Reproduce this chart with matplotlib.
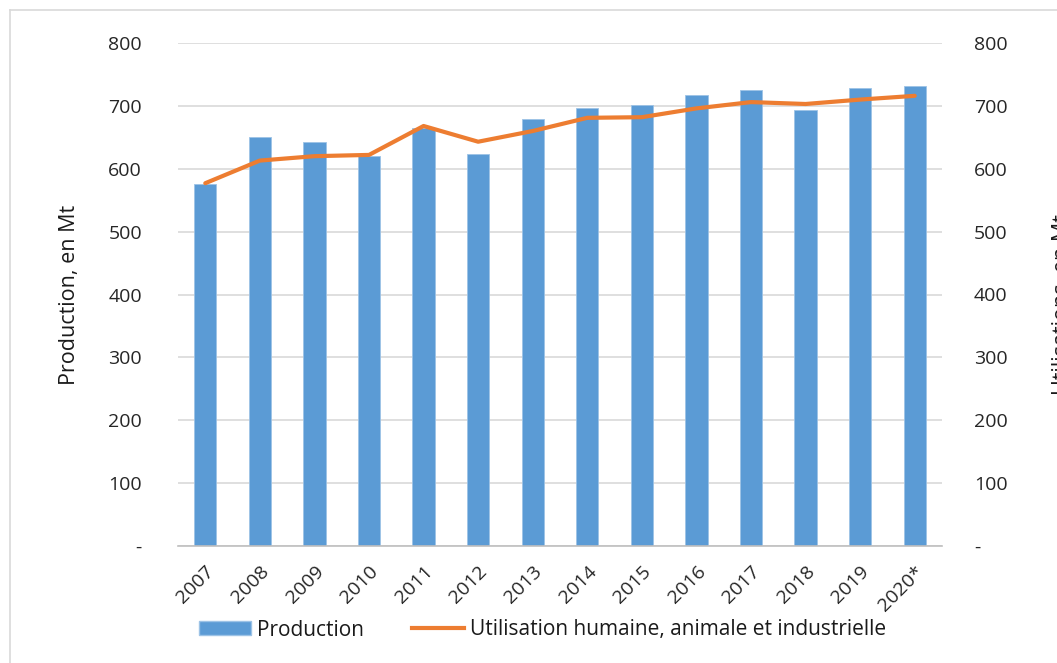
import matplotlib
matplotlib.use("Agg")
import matplotlib.pyplot as plt
from matplotlib.lines import Line2D
from matplotlib.patches import Patch

plt.rcParams['font.family'] = ['Open Sans', 'DejaVu Sans']

years = ["2007", "2008", "2009", "2010", "2011", "2012", "2013",
         "2014", "2015", "2016", "2017", "2018", "2019", "2020*"]
production = [575, 651, 643, 620, 665, 624, 679, 697, 702, 718, 726, 694, 728, 731]
utilisation = [577, 613, 620, 622, 668, 643, 660, 681, 682, 696, 706, 703, 710, 716]
y_ticks = [0, 100, 200, 300, 400, 500, 600, 700, 800]
y_tick_labels = ["-", "100", "200", "300", "400", "500", "600", "700", "800"]

blue = "#5B9BD5"
orange = "#ED7D31"

fig = plt.figure(figsize=(10.57, 6.63), dpi=100)
ax = fig.add_axes([178 / 1057, 1 - 546 / 663, 764 / 1057, 503 / 663])
x = list(range(len(years)))

ax.bar(x, production, width=0.41, color=blue, edgecolor="#9DC3E6", linewidth=0.6, zorder=2)

ax.set_xlim(-0.5, len(years) - 0.5)
ax.set_ylim(0, 800)
ax.set_yticks(y_ticks)
ax.set_yticklabels(y_tick_labels)
ax.grid(axis="y", color="#D9D9D9", linewidth=1.2, zorder=0)
for side in ["top", "left", "right"]:
    ax.spines[side].set_visible(False)
ax.spines["bottom"].set_color("#BFBFBF")
ax.spines["bottom"].set_linewidth(1.2)
ax.tick_params(axis="y", length=0, pad=26, labelsize=14, labelcolor="#262626")
ax.tick_params(axis="x", length=0, pad=12, labelsize=14, labelcolor="#262626")
ax.set_xticks(x)
ax.set_xticklabels(years, rotation=45, ha="right", rotation_mode="anchor")

ax2 = ax.twinx()
ax2.plot(x, utilisation, color=orange, linewidth=3, solid_capstyle="round", zorder=3)
ax2.set_ylim(0, 800)
ax2.set_yticks(y_ticks)
ax2.set_yticklabels(y_tick_labels)
for side in ax2.spines:
    ax2.spines[side].set_visible(False)
ax2.tick_params(axis="y", length=0, pad=23, labelsize=14, labelcolor="#262626")
for lab in ax2.get_yticklabels():
    lab.set_horizontalalignment("left")

fig.text(69 / 1057, 1 - 295 / 663, "Production, en Mt", rotation=90,
         ha="center", va="center", fontsize=15.5, color="#1a1a1a")
fig.text(1052 / 1057, 1 - 305 / 663, "Utilisations, en Mt", rotation=90,
         ha="left", va="center", fontsize=15.5, color="#1a1a1a")

handles = [Patch(facecolor=blue, edgecolor="#9DC3E6"),
           Line2D([0], [0], color=orange, linewidth=3)]
fig.legend(handles, ["Production", "Utilisation humaine, animale et industrielle"],
           loc="center left", bbox_to_anchor=(180 / 1057, 1 - 630 / 663),
           ncol=2, frameon=False, fontsize=15, handlelength=2.5, handleheight=0.65,
           handletextpad=0.3, columnspacing=2.3, labelcolor="#1a1a1a")

# thin frame around the chart area
fig.add_artist(Line2D([10 / 1057, 10 / 1057], [0, 1 - 10 / 663],
                      transform=fig.transFigure, color="#D9D9D9", linewidth=1.2))
fig.add_artist(Line2D([10 / 1057, 1], [1 - 10 / 663, 1 - 10 / 663],
                      transform=fig.transFigure, color="#D9D9D9", linewidth=1.2))

fig.savefig("out.png", dpi=100)
